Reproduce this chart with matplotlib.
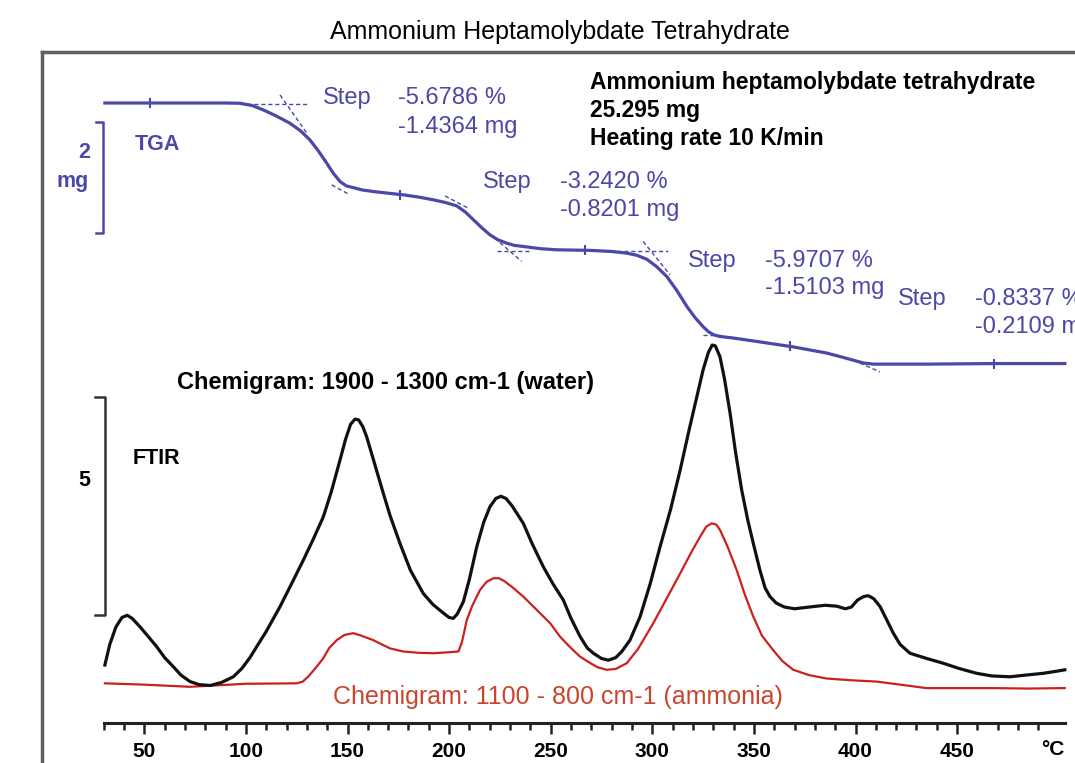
import numpy as np
import matplotlib
matplotlib.use("Agg")
import matplotlib.pyplot as plt

plt.rcParams['font.family'] = ['Liberation Sans', 'DejaVu Sans']

# ---- data ----
# FTIR chemigram, water band (1900-1300 cm-1)
water_T = [30.6, 33, 36, 39, 41.6, 44, 48, 52, 56.1, 60, 64.3, 68, 72.5, 77, 82.5, 88, 93.8, 98,
           102, 105.3, 110, 116.8, 122, 128.3, 133, 138.1, 142, 146.3, 149, 151.5, 153.7, 155.5,
           157.5, 159.4, 163, 167.6, 171, 175.8, 181, 187.3, 192, 197.2, 200, 202.1, 204, 207,
           210, 213.6, 217, 220.1, 223, 225.5, 228, 231, 236.5, 241, 246.4, 251, 256.2, 260,
           264.5, 268, 271, 275, 278.4, 282, 285, 289, 294, 299, 303.8, 309, 313.7, 318, 321.9,
           325, 327.6, 329.5, 331, 333.3, 335.5, 338.3, 341, 344, 347, 349.7, 353, 355.5, 357.9,
           361, 365, 370, 379.2, 385, 390.7, 395, 398, 401, 404, 406.3, 409, 412.1, 415, 418.6,
           422, 426.8, 435, 443.2, 451, 459.6, 467, 476, 484, 492.4, 498, 503]
water_I = [1.33, 1.80, 2.20, 2.42, 2.47, 2.40, 2.20, 1.98, 1.75, 1.50, 1.29, 1.10, 0.95, 0.88,
           0.86, 0.93, 1.06, 1.25, 1.50, 1.75, 2.10, 2.67, 3.15, 3.74, 4.20, 4.73, 5.30, 6.03,
           6.50, 6.85, 6.97, 6.95, 6.80, 6.57, 6.00, 5.27, 4.75, 4.12, 3.50, 2.97, 2.72, 2.52,
           2.42, 2.40, 2.50, 2.78, 3.30, 4.04, 4.60, 4.96, 5.15, 5.20, 5.15, 4.98, 4.58, 4.10,
           3.58, 3.20, 2.82, 2.40, 1.98, 1.72, 1.60, 1.48, 1.44, 1.50, 1.64, 1.90, 2.44, 3.20,
           4.04, 4.90, 5.80, 6.70, 7.48, 8.10, 8.50, 8.67, 8.65, 8.40, 7.90, 7.10, 6.20, 5.34,
           4.65, 4.12, 3.50, 3.10, 2.90, 2.75, 2.66, 2.62, 2.67, 2.70, 2.68, 2.62, 2.66, 2.82,
           2.90, 2.92, 2.85, 2.67, 2.40, 2.06, 1.80, 1.60, 1.48, 1.37, 1.25, 1.14, 1.08, 1.06,
           1.10, 1.14, 1.18, 1.22]

# FTIR chemigram, ammonia band (1100-800 cm-1)
ammonia_T = [30.6, 50, 72.5, 100, 125, 128, 131, 134.8, 138, 141, 144.7, 148.5, 152.9, 157,
             162.7, 167, 171, 177.5, 185, 192.3, 199, 204.6, 206.3, 208.7, 211.5, 215.2, 218.5,
             221.8, 224.5, 227, 231, 236.5, 243, 249.7, 254.6, 259.5, 264.5, 269.3, 273, 277.6,
             282, 287.4, 293, 300.5, 307, 313.7, 319, 323.5, 326.5, 329.2, 331.5, 333.3, 337,
             341.5, 345.5, 349.7, 354, 359.5, 364, 369.4, 377, 385.8, 398, 410.4, 422, 435, 450,
             467.8, 485, 503]
ammonia_I = [0.91, 0.88, 0.83, 0.90, 0.91, 0.95, 1.08, 1.29, 1.48, 1.72, 1.90, 2.02, 2.06, 2.00,
             1.90, 1.80, 1.71, 1.64, 1.61, 1.60, 1.62, 1.64, 1.85, 2.36, 2.70, 3.05, 3.24,
             3.32, 3.32, 3.26, 3.12, 2.90, 2.60, 2.29, 1.98, 1.74, 1.52, 1.38, 1.28, 1.22,
             1.24, 1.37, 1.70, 2.29, 2.85, 3.43, 3.90, 4.27, 4.50, 4.58, 4.55, 4.43, 4.05,
             3.51, 2.95, 2.44, 2.00, 1.67, 1.42, 1.22, 1.10, 1.02, 0.98, 0.95, 0.88, 0.80, 0.80,
             0.80, 0.79, 0.80]

# TGA mass (mg)
tga_T = [30.6, 90, 97.1, 103, 108.6, 115, 121.7, 127, 131.5, 135.5, 139.8, 143, 146.3, 149.5,
         152.9, 157, 162.7, 170, 177.5, 185, 192.3, 198.5, 203.8, 208, 212, 216, 220.1, 224,
         228.3, 232, 236.5, 245, 253, 269.3, 280, 287.4, 292.5, 297.3, 302, 307.1, 312, 317,
         321, 325.1, 327.8, 330.1, 333, 339.9, 353, 369.4, 385.8, 392, 399, 404, 408.8, 435,
         467.8, 503]
tga_m = [25.295, 25.295, 25.29, 25.25, 25.17, 25.06, 24.93, 24.79, 24.63, 24.44, 24.21, 24.03,
         23.88, 23.80, 23.77, 23.73, 23.70, 23.67, 23.64, 23.60, 23.55, 23.50, 23.44, 23.33,
         23.19, 23.05, 22.92, 22.83, 22.77, 22.73, 22.71, 22.67, 22.65, 22.64, 22.62, 22.59,
         22.55, 22.48, 22.35, 22.17, 21.92, 21.63, 21.43, 21.26, 21.17, 21.12, 21.09, 21.06,
         20.99, 20.90, 20.79, 20.73, 20.66, 20.61, 20.59, 20.59, 20.60, 20.60]
tga_marks_T = [53, 176, 267, 368, 468]

# step evaluation tangents (T1, m1, T2, m2)
tangents = [(97, 25.28, 130, 25.28), (116.8, 25.44, 130, 24.75), (142.2, 23.82, 151.2, 23.64),
            (198, 23.62, 209.4, 23.40), (223.4, 22.62, 239.8, 22.62), (225, 22.78, 235.7, 22.44),
            (275.7, 22.62, 307.8, 22.62), (295.5, 22.80, 308.7, 22.20), (325, 21.11, 335, 21.11),
            (399, 20.66, 412, 20.45)]

steps_pct = ['-5.6786 %', '-3.2420 %', '-5.9707 %', '-0.8337 %']
steps_mg = ['-1.4364 mg', '-0.8201 mg', '-1.5103 mg', '-0.2109 mg']

xticks = [50, 100, 150, 200, 250, 300, 350, 400, 450]

BLUE = '#4b48a6'
RED = '#cc2020'
W, H = 1075, 763


def fx(x):
    return x / W


def fy(y):
    return 1 - y / H


fig = plt.figure(figsize=(10.75, 7.63), dpi=100)

# outer frame (cut by the image border on right and bottom)
fr = fig.add_axes([fx(42), -0.2, 1.2, fy(52) + 0.2])
fr.set_xticks([])
fr.set_yticks([])
for s in ['left', 'top']:
    fr.spines[s].set_color('#606060')
    fr.spines[s].set_linewidth(2.5)

ax = fig.add_axes([fx(103.66), fy(723), fx(1064.8 - 103.66), (723 - 52) / H])
ax.patch.set_alpha(0)
ax.set_xlim(30, 503)
ax.set_ylim(0, (723 - 52) / 43.6)
for s in ['left', 'top', 'right']:
    ax.spines[s].set_visible(False)
ax.spines['bottom'].set_linewidth(2.2)
ax.spines['bottom'].set_color('#222222')
ax.set_yticks([])
ax.set_xticks(xticks)
ax.set_xticks(np.arange(30, 500, 10), minor=True)
ax.tick_params(axis='x', which='major', direction='out', length=8, width=1.8, color='#222222',
               labelsize=15, pad=6)
ax.tick_params(axis='x', which='minor', direction='out', length=5, width=1.8, color='#222222')
for lab in ax.get_xticklabels():
    lab.set_fontweight('bold')
ax.text(497, -(740 - 723) / 671, '°C', transform=ax.get_xaxis_transform(), ha='center', va='top',
        fontsize=15, fontweight='bold')

ax.plot(ammonia_T, ammonia_I, color=RED, lw=1.6, clip_on=False)
ax.plot(water_T, water_I, color='#111111', lw=2.3, clip_on=False)

# FTIR scale bar: 5 units
ax.plot([25.7, 30.7, 30.7, 25.7], [7.48, 7.48, 2.48, 2.48], color='#333333', lw=1.8, clip_on=False)

# TGA on its own mg scale
ax2 = ax.twinx()
ax2.set_ylim(25.295 - (723 - 103) / 55.5, 25.295 + (103 - 52) / 55.5)
ax2.axis('off')
for t1, m1, t2, m2 in tangents:
    ax2.plot([t1, t2], [m1, m2], color=BLUE, lw=1.0, ls=(0, (3, 2)))
ax2.plot(tga_T, tga_m, color=BLUE, lw=2.3, clip_on=False)
ax2.plot(tga_marks_T, np.interp(tga_marks_T, tga_T, tga_m), ls='none', marker='|', ms=7,
         mew=1.5, color=BLUE)
# TGA scale bar: 2 mg
ax2.plot([26, 29.7, 29.7, 26], [24.95, 24.95, 22.95, 22.95], color=BLUE, lw=1.8, clip_on=False)

# ---- texts ----
fig.text(fx(560), fy(32), 'Ammonium Heptamolybdate Tetrahydrate', ha='center', va='center',
         fontsize=18)

info = ['Ammonium heptamolybdate tetrahydrate', '25.295 mg', 'Heating rate 10 K/min']
for txt, y in zip(info, [83, 111, 138]):
    fig.text(fx(590), fy(y), txt, ha='left', va='center', fontsize=16.5, fontweight='bold')

step_pos = [(323, 398, 98, 127), (483, 560, 182, 210), (688, 765, 261, 288), (898, 975, 299, 327)]
for (xs, xv, y1, y2), p, m in zip(step_pos, steps_pct, steps_mg):
    fig.text(fx(xs), fy(y1), 'Step', color=BLUE, fontsize=17, va='center')
    fig.text(fx(xv), fy(y1), p, color=BLUE, fontsize=17, va='center')
    fig.text(fx(xv), fy(y2), m, color=BLUE, fontsize=17, va='center')

fig.text(fx(135), fy(145), 'TGA', color=BLUE, fontsize=15.5, fontweight='bold', va='center')
fig.text(fx(90), fy(152), '2', color=BLUE, fontsize=15.5, fontweight='bold', va='center', ha='right')
fig.text(fx(89), fy(182), 'mg', color=BLUE, fontsize=15.5, fontweight='bold', va='center', ha='right')

fig.text(fx(133), fy(458), 'FTIR', fontsize=15.5, fontweight='bold', va='center')
fig.text(fx(90), fy(480), '5', fontsize=15.5, fontweight='bold', va='center', ha='right')
fig.text(fx(177), fy(382), 'Chemigram: 1900 - 1300 cm-1 (water)', fontsize=17,
         fontweight='bold', va='center')
fig.text(fx(333), fy(697), 'Chemigram: 1100 - 800 cm-1 (ammonia)', fontsize=18,
         color='#c8462e', va='center')

fig.savefig('out.png', dpi=100)
